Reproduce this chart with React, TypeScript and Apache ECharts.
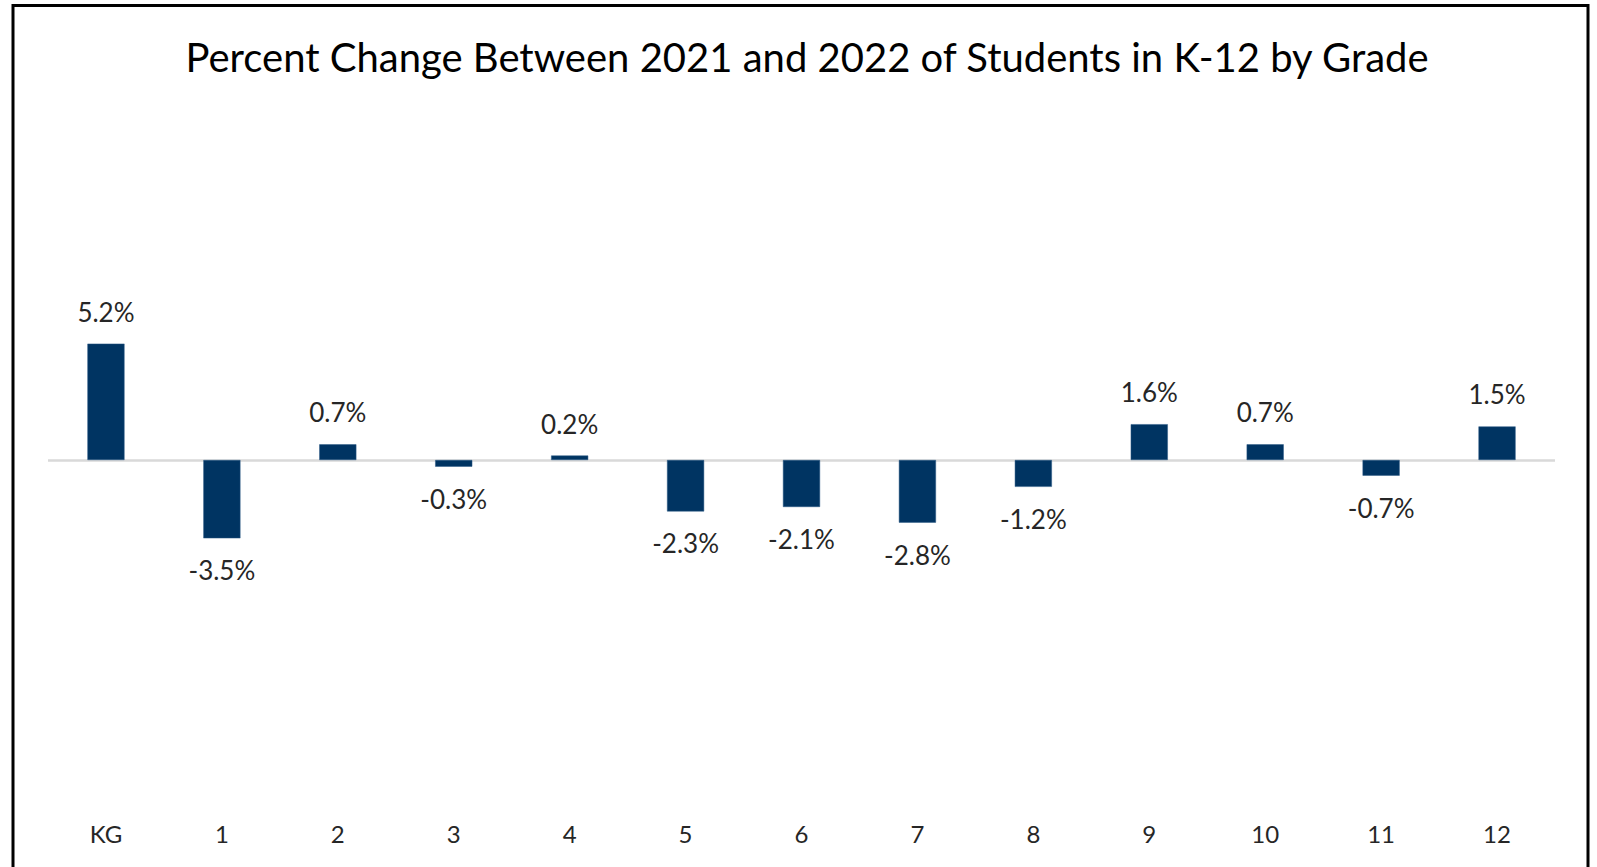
import React, { useEffect, useRef } from "react";
import * as echarts from "echarts";

const grades = ["KG", "1", "2", "3", "4", "5", "6", "7", "8", "9", "10", "11", "12"];
const pctChange = [5.2, -3.5, 0.7, -0.3, 0.2, -2.3, -2.1, -2.8, -1.2, 1.6, 0.7, -0.7, 1.5];
const titleText = "Percent Change Between 2021 and 2022 of Students in K-12 by Grade";

const FONT = "Lato, 'Open Sans', sans-serif";

export default function App() {
  const ref = useRef<HTMLDivElement>(null);
  useEffect(() => {
    if (!ref.current) return;
    const chart = echarts.init(ref.current, null, { renderer: "svg" });
    chart.setOption({
      animation: false,
      backgroundColor: "#ffffff",
      title: {
        text: titleText,
        left: 802,
        textAlign: "center",
        top: 32,
        textStyle: { fontFamily: FONT, fontSize: 40, fontWeight: "normal", color: "#000000" },
      },
      graphic: [
        {
          type: "rect",
          shape: { x: 13, y: 5.5, width: 1575, height: 900 },
          style: { fill: "none", stroke: "#000000", lineWidth: 3 },
          z: 100,
        },
      ],
      grid: { left: 48, right: 42, top: 102, bottom: 49, containLabel: false },
      xAxis: {
        type: "category",
        data: grades,
        axisLine: { show: false, onZero: false },
        axisTick: { show: false },
        axisLabel: { fontFamily: FONT, fontSize: 24, color: "#262626", margin: 3 },
      },
      yAxis: {
        type: "value",
        min: -16,
        max: 16,
        show: false,
        splitLine: { show: false },
      },
      series: [
        {
          type: "bar",
          barWidth: "32%",
          data: pctChange.map((v) => ({
            value: v,
            label: { position: v >= 0 ? "top" : "bottom" },
          })),
          itemStyle: { color: "#003462", borderColor: "#2d5a86", borderWidth: 0.5 },
          label: {
            show: true,
            distance: 19,
            fontFamily: FONT,
            fontSize: 26,
            color: "#262626",
            formatter: (p: any) => `${Number(p.value).toFixed(1)}%`,
          },
          markLine: {
            silent: true,
            symbol: "none",
            label: { show: false },
            lineStyle: { color: "#d9d9d9", width: 2.5, type: "solid" },
            data: [{ yAxis: 0 }],
            z: 1,
          },
        },
      ],
    });
    return () => chart.dispose();
  }, []);
  return (
    <div
      ref={ref}
      style={{ position: "fixed", left: 0, top: 0, width: 1597, height: 867 }}
    />
  );
}
